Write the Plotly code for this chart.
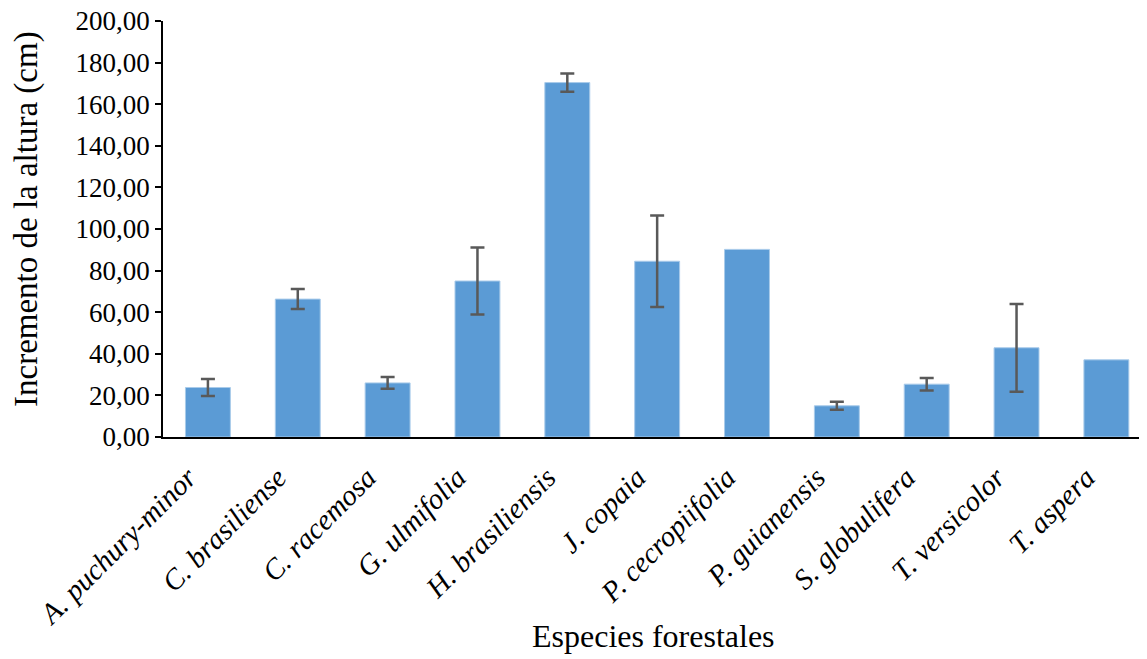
import plotly.graph_objects as go

species = ["A. puchury-minor", "C. brasiliense", "C. racemosa", "G. ulmifolia",
           "H. brasiliensis", "J. copaia", "P. cecropiifolia", "P. guianensis",
           "S. globulifera", "T. versicolor", "T. aspera"]
height_increment = [23.8, 66.3, 26.0, 75.0, 170.4, 84.5, 90.2, 15.0, 25.4, 42.9, 37.1]
error_values = [4.1, 4.8, 2.8, 16.1, 4.4, 22.0, None, 1.9, 3.0, 21.1, None]

y_ticks = [0, 20, 40, 60, 80, 100, 120, 140, 160, 180, 200]

FONT = "Liberation Serif, Times New Roman, serif"

# only species that have an error bar
err_x = [s for s, e in zip(species, error_values) if e is not None]
err_y = [v for v, e in zip(height_increment, error_values) if e is not None]
err_v = [e for e in error_values if e is not None]

fig = go.Figure()
fig.add_trace(go.Bar(
    x=species,
    y=height_increment,
    marker=dict(color="#5B9BD5", line=dict(color="#A9CBEA", width=1)),
    showlegend=False,
    hoverinfo="x+y",
))
fig.add_trace(go.Scatter(
    x=err_x, y=err_y, mode="markers",
    marker=dict(size=1, opacity=0),
    error_y=dict(type="data", array=err_v, visible=True,
                 color="#595959", thickness=2.5, width=7),
    showlegend=False,
    hoverinfo="skip",
))

PLOT_W = 1147 - 155 - 1

fig.update_layout(
    width=1147, height=659,
    paper_bgcolor="white", plot_bgcolor="white",
    margin=dict(l=155, r=1, t=13, b=230, autoexpand=False),
    bargap=0.5,
    separators=",.",
    font=dict(family=FONT, color="black"),
    annotations=[
        dict(text="Incremento de la altura (cm)", xref="paper", yref="paper",
             x=(26 - 163) / PLOT_W, y=(437 - 219) / 416, textangle=-90, showarrow=False,
             font=dict(family=FONT, size=33, color="black"),
             xanchor="center", yanchor="middle"),
        dict(text="Especies forestales", xref="paper", yref="paper",
             x=(653 - 163) / PLOT_W, y=-(636 - 437) / 416, showarrow=False,
             font=dict(family=FONT, size=32, color="black"),
             xanchor="center", yanchor="middle"),
    ],
)

fig.update_yaxes(
    range=[0, 200], tickvals=y_ticks, tickformat=".2f",
    showgrid=False, zeroline=False, automargin=False,
    showline=True, linecolor="black", linewidth=1.5,
    ticks="outside", ticklen=6, tickcolor="black", tickwidth=1.5,
    ticklabeloverflow="allow",
    tickfont=dict(family=FONT, size=27, color="black"),
)
fig.update_xaxes(
    range=[-0.5, 10.53],
    showgrid=False, zeroline=False, automargin=False,
    showline=True, linecolor="black", linewidth=2,
    ticks="", tickangle=-45, ticklabelshift=-20, ticklabelstandoff=10,
    ticklabeloverflow="allow",
    tickfont=dict(family=FONT, size=29, color="black", style="italic"),
)

fig.write_html("out.html")
